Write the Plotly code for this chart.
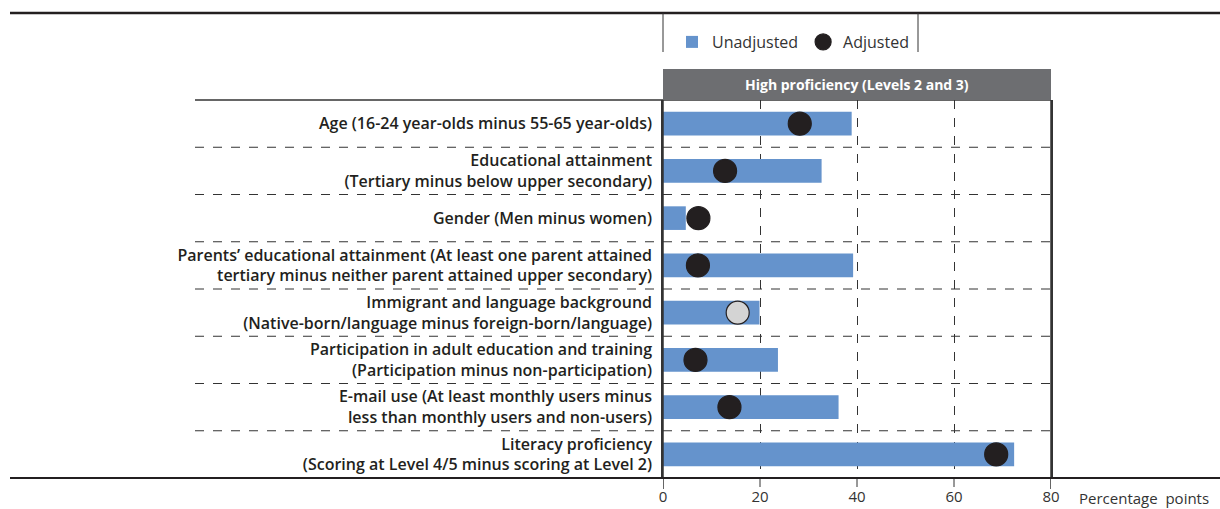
import plotly.graph_objects as go

categories = [
    "Age (16-24 year-olds minus 55-65 year-olds)",
    "Educational attainment<br>(Tertiary minus below upper secondary)",
    "Gender (Men minus women)",
    "Parents’ educational attainment (At least one parent attained<br>tertiary minus neither parent attained upper secondary)",
    "Immigrant and language background<br>(Native-born/language minus foreign-born/language)",
    "Participation in adult education and training<br>(Participation minus non-participation)",
    "E-mail use (At least monthly users minus<br>less than monthly users and non-users)",
    "Literacy proficiency<br>(Scoring at Level 4/5 minus scoring at Level 2)",
]
unadjusted = [38.9, 32.7, 4.7, 39.2, 19.9, 23.7, 36.2, 72.4]
adjusted = [28.2, 12.8, 7.3, 7.2, 15.4, 6.7, 13.7, 68.7]
significant = [True, True, True, True, False, True, True, True]
x_ticks = [0, 20, 40, 60, 80]
header_text = "High proficiency (Levels 2 and 3)"
unit_text = "Percentage&nbsp;&nbsp;points"

BLUE = "#6593CC"
DARK = "#231f20"
GREY_BAND = "#6d6e71"
SMALL_FONT = "Open Sans, sans-serif"
LABEL_FONT = "Open Sans, sans-serif"

idx = list(range(len(categories)))
n = len(categories)

fig = go.Figure()
fig.add_trace(go.Bar(
    x=unadjusted, y=idx, orientation="h", width=0.5, name="Unadjusted",
    marker=dict(color=BLUE, line=dict(color=BLUE, width=0)),
))
fig.add_trace(go.Scatter(
    x=adjusted, y=idx, mode="markers", name="Adjusted",
    marker=dict(size=23, symbol="circle",
                color=[DARK if s else "#d4d4d4" for s in significant],
                line=dict(color=DARK, width=1.2)),
))

W, H = 1220, 509
L, R, T, B = 663, 169, 100, 31
plot_h = H - T - B
plot_w = W - L - R

def px_to_paper_y(py):
    return (H - B - py) / plot_h

def px_to_paper_x(px):
    return (px - L) / plot_w

shapes = []
# dashed row separators
for i in range(n - 1):
    shapes.append(dict(type="line", xref="paper", yref="y",
                       x0=px_to_paper_x(195), x1=1, y0=i + 0.5, y1=i + 0.5,
                       line=dict(color="#333333", width=1, dash="dash")))
# top line of the panel
shapes.append(dict(type="line", xref="paper", yref="paper",
                   x0=px_to_paper_x(195), x1=1, y0=1, y1=1,
                   line=dict(color="#333333", width=1.5)))
# tick extensions below the axis
for v in x_ticks:
    solid = v in (x_ticks[0], x_ticks[-1])
    shapes.append(dict(type="line", xref="x", yref="paper",
                       x0=v, x1=v, y0=1 if solid else 0, y1=px_to_paper_y(489),
                       line=dict(color="#333333", width=1.5 if solid else 1,
                                 dash="solid" if solid else "dash")))
# header band
shapes.append(dict(type="rect", xref="x", yref="paper",
                   x0=x_ticks[0], x1=x_ticks[-1], y0=1, y1=px_to_paper_y(69),
                   fillcolor=GREY_BAND, line=dict(width=0)))
# outer thick rules
shapes.append(dict(type="line", xref="paper", yref="paper",
                   x0=px_to_paper_x(10), x1=px_to_paper_x(1220),
                   y0=px_to_paper_y(13), y1=px_to_paper_y(13),
                   line=dict(color="#231f20", width=2.5)))
shapes.append(dict(type="line", xref="paper", yref="paper",
                   x0=px_to_paper_x(10), x1=px_to_paper_x(1220),
                   y0=0, y1=0,
                   line=dict(color="#231f20", width=2)))
# legend box sides
for px in (663, 918):
    shapes.append(dict(type="line", xref="paper", yref="paper",
                       x0=px_to_paper_x(px), x1=px_to_paper_x(px),
                       y0=px_to_paper_y(13), y1=px_to_paper_y(52),
                       line=dict(color="#333333", width=1)))

annotations = [
    dict(text="<b>" + header_text + "</b>", xref="x", yref="paper",
         x=(x_ticks[0] + x_ticks[-1]) / 2, y=px_to_paper_y(85),
         showarrow=False, font=dict(family=SMALL_FONT, size=14, color="white"),
         xanchor="center", yanchor="middle"),
    dict(text=unit_text, xref="paper", yref="paper",
         x=px_to_paper_x(1077), y=px_to_paper_y(498),
         showarrow=False, font=dict(family=SMALL_FONT, size=15, color="#333333"),
         xanchor="left", yanchor="middle"),
]

fig.update_layout(
    width=W, height=H, autosize=False,
    margin=dict(l=L, r=R, t=T, b=B, pad=0, autoexpand=False),
    plot_bgcolor="white", paper_bgcolor="white",
    showlegend=True,
    legend=dict(orientation="h", x=px_to_paper_x(672), y=px_to_paper_y(42),
                xanchor="left", yanchor="middle",
                font=dict(family=SMALL_FONT, size=16, color="#333333"),
                bgcolor="rgba(0,0,0,0)", itemsizing="trace",
                tracegroupgap=0),
    shapes=shapes, annotations=annotations,
    bargap=0.5,
)
fig.update_xaxes(range=[x_ticks[0], x_ticks[-1]], tickvals=x_ticks,
                 ticktext=[str(v) for v in x_ticks],
                 showgrid=True, griddash="dash", gridcolor="#333333", gridwidth=1,
                 zeroline=False, showline=False, ticks="", automargin=False,
                 ticklabelstandoff=8,
                 tickfont=dict(family=SMALL_FONT, size=15, color="#333333"))
fig.update_yaxes(range=[n - 0.5, -0.5], tickvals=idx, ticktext=categories,
                 showgrid=False, zeroline=False, automargin=False,
                 showline=True, linecolor="#333333", linewidth=1.5, mirror=True,
                 ticks="", ticklabelstandoff=6,
                 tickfont=dict(family=LABEL_FONT, size=16, color=DARK, weight=600))

fig.write_html("out.html", config={"displayModeBar": False},
               post_script="document.body.style.margin='0';document.body.style.overflow='hidden';")
